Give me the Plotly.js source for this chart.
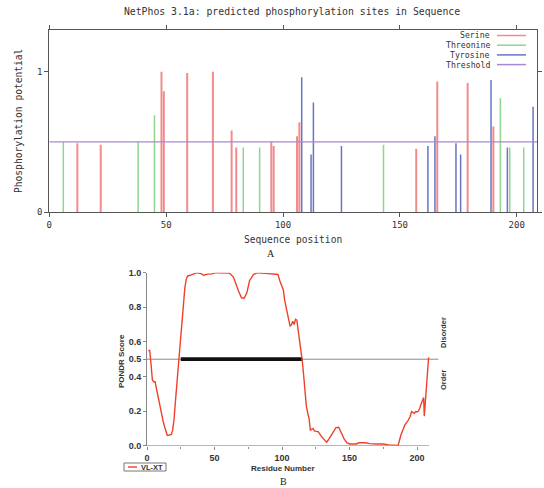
<!DOCTYPE html>
<html><head><meta charset="utf-8">
<script src="https://cdn.plot.ly/plotly-3.0.1.min.js"></script>
<style>html,body{margin:0;padding:0;background:#fff}#plot{width:544px;height:488px}</style>
</head><body><div id="plot"></div>
<script>
// ---- Panel A: NetPhos predictions ----
const serinePos = [12,22,48,49,59,70,78,80,95,96,106,107,157,166,179,190];
const serineVal = [0.49,0.48,1.0,0.86,0.99,1.0,0.58,0.46,0.50,0.47,0.54,0.64,0.45,0.93,0.92,0.61];
const threoninePos = [6,38,45,83,90,143,193,197,203];
const threonineVal = [0.50,0.50,0.69,0.46,0.46,0.48,0.81,0.46,0.46];
const tyrosinePos = [108,112,113,125,162,165,174,176,189,196,207];
const tyrosineVal = [0.96,0.41,0.78,0.47,0.47,0.54,0.49,0.41,0.94,0.46,0.75];
const thresholdA = 0.5;
const seqLength = 209;
const legendNames = ['Serine','Threonine','Tyrosine','Threshold'];
const xTicksA = [0,50,100,150,200];
const yTicksA = [0,1];

// ---- Panel B: PONDR VL-XT ----
const pondrX = [1,2,3,4,5,6,7,8,9,10,11,12,13,14,15,16,17,18,19,20,21,22,23,24,25,26,27,28,29,30,32,34,37,40,42,45,48,51,56,61,64,66,68,70,72,74,76,79,82,88,92,96,97,98.5,100,101,102,103,104,105,106,107,108,109,110,111,112,113,114,115,116,117,118,119,120,121,122,123,124,126,127,129,131,133,134,136,138,140,142,143,144,146,148,150,155,157,162,165,170,175,179,186,187,188,190,191,193,194,195,196,197,198,199,200,201,202,203,204,204.9,205.4,206,207,208,208.6];
const pondrY = [0.55,0.55,0.47,0.38,0.37,0.37,0.33,0.29,0.24,0.21,0.18,0.14,0.11,0.08,0.06,0.06,0.062,0.065,0.09,0.15,0.25,0.36,0.47,0.55,0.63,0.72,0.83,0.91,0.96,0.98,0.985,0.99,1.0,0.995,0.985,0.992,0.993,1.0,1.0,0.998,0.975,0.93,0.89,0.855,0.852,0.885,0.955,0.99,1.0,0.996,0.992,0.99,0.99,0.95,0.92,0.90,0.84,0.80,0.77,0.73,0.69,0.70,0.72,0.70,0.73,0.725,0.67,0.61,0.54,0.49,0.41,0.31,0.23,0.19,0.16,0.09,0.095,0.10,0.085,0.08,0.08,0.055,0.035,0.02,0.03,0.055,0.08,0.105,0.107,0.09,0.07,0.04,0.018,0.01,0.01,0.017,0.017,0.012,0.01,0.01,0.005,0.002,0.03,0.06,0.10,0.12,0.14,0.155,0.17,0.197,0.19,0.187,0.197,0.195,0.20,0.215,0.24,0.265,0.279,0.17,0.245,0.34,0.46,0.51];
const disorderRegion = [25,115];
const thresholdB = 0.5;
const xTicksB = [0,50,100,150,200];
const yTicksB = [0,0.2,0.4,0.5,0.6,0.8,1.0];
const yTickTextB = ['0.0','0.2','0.4','0.5','0.6','0.8','1.0'];

const W = 544, H = 488;
const px = v => v / W;
const py = v => 1 - v / H;

function stems(pos, val) {
  const x = [], y = [];
  pos.forEach((p, i) => { x.push(p, p, null); y.push(0, val[i], null); });
  return {x, y};
}

const colS = '#f28c8c', colT = '#8fd68f', colY = '#6676c4', colTh = '#a987d4';
const mono = 'DejaVu Sans Mono';
const sS = stems(serinePos, serineVal), sT = stems(threoninePos, threonineVal), sY = stems(tyrosinePos, tyrosineVal);

const traces = [
  {x: sS.x, y: sS.y, mode: 'lines', line: {color: colS, width: 2}, xaxis: 'x', yaxis: 'y', hoverinfo: 'skip'},
  {x: sT.x, y: sT.y, mode: 'lines', line: {color: colT, width: 1.5}, xaxis: 'x', yaxis: 'y', hoverinfo: 'skip'},
  {x: sY.x, y: sY.y, mode: 'lines', line: {color: colY, width: 1.5}, xaxis: 'x', yaxis: 'y', hoverinfo: 'skip'},
  {x: [0, seqLength], y: [thresholdA, thresholdA], mode: 'lines', line: {color: colTh, width: 1.2}, xaxis: 'x', yaxis: 'y'},
  {x: [0, 216], y: [thresholdB, thresholdB], mode: 'lines', line: {color: '#8a8a8a', width: 1}, xaxis: 'x2', yaxis: 'y2'},
  {x: disorderRegion, y: [thresholdB, thresholdB], mode: 'lines', line: {color: '#111', width: 3.8}, xaxis: 'x2', yaxis: 'y2'},
  {x: pondrX, y: pondrY, mode: 'lines', line: {color: '#f0402a', width: 1.4}, xaxis: 'x2', yaxis: 'y2', cliponaxis: false},
  {x: [0, seqLength], y: [0, 0], mode: 'lines', line: {color: '#888', width: 1}, xaxis: 'x2', yaxis: 'y2'}
];

const legColors = [colS, colT, colY, colTh];
const legRows = [35.5, 45.2, 54.9, 64.6];
const annotations = [];
const shapes = [];
legendNames.forEach((n, i) => {
  annotations.push({xref: 'paper', yref: 'paper', x: px(491), y: py(legRows[i]), xanchor: 'right', yanchor: 'middle',
    text: n, showarrow: false, font: {family: mono, size: 8.2, color: '#333'}, borderpad: 0});
  shapes.push({type: 'line', xref: 'paper', yref: 'paper', x0: px(497), x1: px(526), y0: py(legRows[i]), y1: py(legRows[i]),
    line: {color: legColors[i], width: 1.5}});
});
annotations.push(
  {xref: 'paper', yref: 'paper', x: px(293), y: py(239), text: 'Sequence position', showarrow: false,
   xanchor: 'center', yanchor: 'middle', font: {family: mono, size: 9.6, color: '#333'}},
  {xref: 'paper', yref: 'paper', x: px(18), y: py(121), text: 'Phosphorylation potential', showarrow: false, textangle: -90,
   xanchor: 'center', yanchor: 'middle', font: {family: mono, size: 9.6, color: '#333'}},
  {xref: 'paper', yref: 'paper', x: px(271), y: py(253), text: 'A', showarrow: false,
   xanchor: 'center', yanchor: 'middle', font: {family: 'Liberation Serif', size: 10, color: '#222'}},
  {xref: 'paper', yref: 'paper', x: px(283), y: py(481.5), text: 'B', showarrow: false,
   xanchor: 'center', yanchor: 'middle', font: {family: 'Liberation Serif', size: 10, color: '#222'}},
  {xref: 'paper', yref: 'paper', x: px(283), y: py(468), text: '<b>Residue Number</b>', showarrow: false,
   xanchor: 'center', yanchor: 'middle', font: {family: 'Liberation Sans', size: 8, color: '#333'}},
  {xref: 'paper', yref: 'paper', x: px(121), y: py(361), text: '<b>PONDR Score</b>', showarrow: false, textangle: -90,
   xanchor: 'center', yanchor: 'middle', font: {family: 'Liberation Sans', size: 8, color: '#333'}},
  {xref: 'paper', yref: 'paper', x: px(443), y: py(333), text: '<b>Disorder</b>', showarrow: false, textangle: -90,
   xanchor: 'center', yanchor: 'middle', font: {family: 'Liberation Sans', size: 7.5, color: '#333'}},
  {xref: 'paper', yref: 'paper', x: px(443), y: py(380), text: '<b>Order</b>', showarrow: false, textangle: -90,
   xanchor: 'center', yanchor: 'middle', font: {family: 'Liberation Sans', size: 7.5, color: '#333'}},
  {xref: 'paper', yref: 'paper', x: px(139), y: py(467), text: '<b>VL-XT</b>', showarrow: false,
   xanchor: 'left', yanchor: 'middle', font: {family: 'Liberation Sans', size: 7.5, color: '#333'}}
);
shapes.push(
  {type: 'rect', xref: 'paper', yref: 'paper', x0: px(124), x1: px(166), y0: py(471), y1: py(463), line: {color: '#777', width: 1}},
  {type: 'line', xref: 'paper', yref: 'paper', x0: px(128), x1: px(137), y0: py(467), y1: py(467), line: {color: '#f0402a', width: 1.4}}
);

const layout = {
  width: W, height: H, margin: {l: 0, r: 0, t: 0, b: 0}, paper_bgcolor: '#fff', plot_bgcolor: '#fff', showlegend: false,
  title: {text: 'NetPhos 3.1a: predicted phosphorylation sites in Sequence', x: px(292), xanchor: 'center',
    y: py(11.3), yref: 'container', yanchor: 'middle', font: {family: mono, size: 9.8, color: '#333'}},
  xaxis: {domain: [px(49.3), px(537.3)], anchor: 'y', range: [0, 208.8], showgrid: false, zeroline: false,
    showline: true, mirror: 'ticks', linecolor: '#555', linewidth: 1, ticks: 'outside', ticklen: 4, tickcolor: '#555',
    tickvals: xTicksA, ticktext: xTicksA.map(String), tickfont: {family: mono, size: 9, color: '#333'}},
  yaxis: {domain: [py(212), py(30)], anchor: 'x', range: [0, 1.297], showgrid: false, zeroline: false,
    showline: true, mirror: 'ticks', linecolor: '#555', linewidth: 1, ticks: 'outside', ticklen: 4, tickcolor: '#555',
    tickvals: yTicksA, ticktext: yTicksA.map(String), tickfont: {family: mono, size: 9, color: '#333'}},
  xaxis2: {domain: [px(147), px(147 + 216 * 1.35)], anchor: 'y2', range: [0, 216], showgrid: false, zeroline: false,
    showline: false, ticks: 'outside', ticklen: 3, tickcolor: '#888',
    tickvals: xTicksB, ticktext: xTicksB.map(String), tickfont: {family: 'Liberation Sans', size: 9, color: '#333', weight: 'bold'},
    minor: {tickvals: [25, 75, 125, 175], ticks: 'outside', ticklen: 2, tickcolor: '#888'}},
  yaxis2: {domain: [py(445.7), py(272.7)], anchor: 'x2', range: [0, 1.0], showgrid: false, zeroline: false,
    showline: true, linecolor: '#888', linewidth: 1, ticks: 'outside', ticklen: 3, tickcolor: '#888',
    tickvals: yTicksB, ticktext: yTickTextB, tickfont: {family: 'Liberation Sans', size: 9, color: '#333', weight: 'bold'}},
  annotations, shapes
};
Plotly.newPlot('plot', traces, layout, {staticPlot: true});
</script></body></html>
